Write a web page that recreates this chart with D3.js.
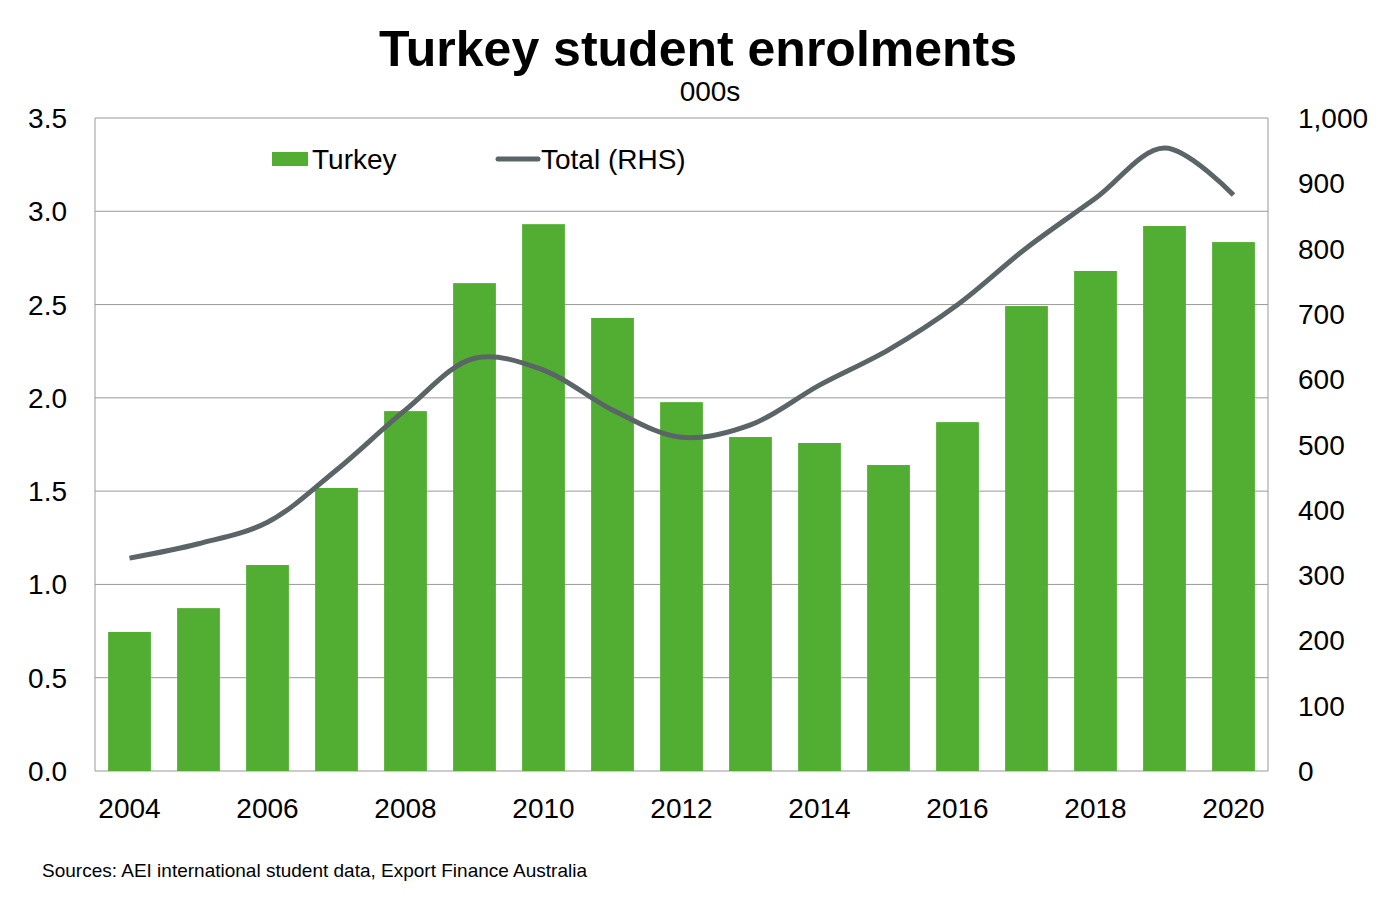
<!DOCTYPE html><html><head><meta charset="utf-8">
<script src="https://cdn.jsdelivr.net/npm/d3@7"></script>
<style>body{margin:0;background:#fff}text{font-family:Arial,"Liberation Sans",sans-serif}</style></head><body>
<svg id="c" width="1385" height="909"></svg>
<script>
const years=[2004,2005,2006,2007,2008,2009,2010,2011,2012,2013,2014,2015,2016,2017,2018,2019,2020];
const turkey=[0.745,0.873,1.104,1.517,1.929,2.615,2.931,2.428,1.977,1.790,1.758,1.640,1.870,2.492,2.680,2.921,2.835];
const total=[326,348,381,461,553,632,614,553,511,530,591,645,714,801,877,954,882];
const leftTicks=[0,0.5,1,1.5,2,2.5,3,3.5];
const rightTicks=[0,100,200,300,400,500,600,700,800,900,1000];
const svg=d3.select("#c");
const L=95,R=1268,T=118,B=771;
const x=d3.scaleBand().domain(years).range([L,R]).paddingInner(0.38).paddingOuter(0.19);
const yl=d3.scaleLinear().domain([0,3.5]).range([B,T]);
const yr=d3.scaleLinear().domain([0,1000]).range([B,T]);
svg.append("g").selectAll("line").data(leftTicks).join("line")
 .attr("x1",L).attr("x2",R).attr("y1",d=>yl(d)).attr("y2",d=>yl(d)).attr("stroke","#999").attr("stroke-width",1);
svg.append("line").attr("x1",L).attr("x2",L).attr("y1",T).attr("y2",B).attr("stroke","#999");
svg.append("line").attr("x1",R).attr("x2",R).attr("y1",T).attr("y2",B).attr("stroke","#999");
svg.append("g").selectAll("rect").data(years).join("rect")
 .attr("x",d=>x(d)).attr("width",x.bandwidth()).attr("y",(d,i)=>yl(turkey[i])).attr("height",(d,i)=>B-yl(turkey[i])).attr("fill","#52ae32");
svg.append("path").datum(total).attr("fill","none").attr("stroke","#5b6466").attr("stroke-width",5)
 .attr("d",d3.line().x((d,i)=>x(years[i])+x.bandwidth()/2).y(d=>yr(d)).curve(d3.curveCatmullRom.alpha(0.5)));
svg.append("g").selectAll("text").data(leftTicks).join("text").attr("x",L-28).attr("y",d=>yl(d)+10)
 .attr("text-anchor","end").attr("font-size",28).text(d=>d.toFixed(1));
svg.append("g").selectAll("text").data(rightTicks).join("text").attr("x",R+30).attr("y",d=>yr(d)+10)
 .attr("font-size",28).text(d=>d3.format(",")(d));
svg.append("g").selectAll("text").data(years.filter((d,i)=>i%2==0)).join("text").attr("x",d=>x(d)+x.bandwidth()/2).attr("y",818)
 .attr("text-anchor","middle").attr("font-size",28).text(d=>d);
svg.append("text").attr("x",698).attr("y",66).attr("text-anchor","middle").attr("font-size",50).attr("font-weight","bold").text("Turkey student enrolments");
svg.append("text").attr("x",710).attr("y",101).attr("text-anchor","middle").attr("font-size",28).text("000s");
svg.append("rect").attr("x",272).attr("y",152).attr("width",36).attr("height",14).attr("fill","#52ae32");
svg.append("text").attr("x",312).attr("y",169).attr("font-size",28).text("Turkey");
svg.append("line").attr("x1",498).attr("x2",538).attr("y1",159).attr("y2",159).attr("stroke","#5b6466").attr("stroke-width",5).attr("stroke-linecap","round");
svg.append("text").attr("x",541).attr("y",169).attr("font-size",28).text("Total (RHS)");
svg.append("text").attr("x",42).attr("y",877).attr("font-size",19).text("Sources: AEI international student data, Export Finance Australia");
</script></body></html>
